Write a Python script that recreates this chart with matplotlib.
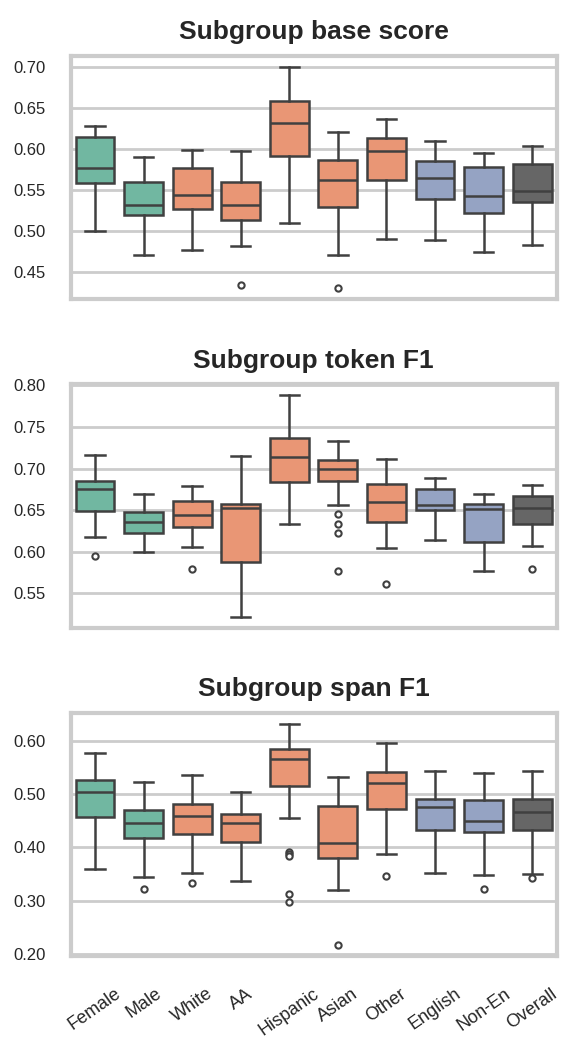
import numpy as np
import matplotlib.pyplot as plt
from matplotlib.ticker import MultipleLocator, FormatStrFormatter

groups = ["Female", "Male", "White", "AA", "Hispanic", "Asian", "Other", "English", "Non-En", "Overall"]
group_colors = ["#71b7a1", "#71b7a1", "#e99675", "#e99675", "#e99675",
                "#e99675", "#e99675", "#95a3c3", "#95a3c3", "#666666"]

# Subgroup base score (box stats)
base_whislo = [0.500, 0.471, 0.477, 0.482, 0.510, 0.470, 0.490, 0.489, 0.474, 0.483]
base_q1 = [0.559, 0.519, 0.527, 0.513, 0.592, 0.529, 0.562, 0.539, 0.522, 0.535]
base_med = [0.577, 0.532, 0.544, 0.532, 0.632, 0.562, 0.598, 0.564, 0.542, 0.549]
base_q3 = [0.615, 0.560, 0.577, 0.560, 0.658, 0.587, 0.613, 0.585, 0.578, 0.582]
base_whishi = [0.628, 0.590, 0.599, 0.597, 0.700, 0.621, 0.637, 0.610, 0.595, 0.604]
base_fliers = [[], [], [], [0.434], [], [0.430], [], [], [], []]

# Subgroup token F1
token_whislo = [0.618, 0.600, 0.606, 0.522, 0.634, 0.656, 0.604, 0.614, 0.577, 0.607]
token_q1 = [0.649, 0.623, 0.630, 0.588, 0.684, 0.685, 0.636, 0.650, 0.612, 0.633]
token_med = [0.675, 0.636, 0.644, 0.653, 0.714, 0.699, 0.660, 0.656, 0.652, 0.653]
token_q3 = [0.685, 0.648, 0.661, 0.658, 0.737, 0.710, 0.682, 0.676, 0.658, 0.667]
token_whishi = [0.716, 0.669, 0.679, 0.715, 0.788, 0.733, 0.712, 0.689, 0.670, 0.680]
token_fliers = [[0.595], [], [0.579], [], [], [0.646, 0.633, 0.623, 0.577],
                [0.561], [], [], [0.579]]

# Subgroup span F1
span_whislo = [0.360, 0.344, 0.351, 0.337, 0.455, 0.320, 0.387, 0.351, 0.349, 0.350]
span_q1 = [0.458, 0.418, 0.425, 0.410, 0.515, 0.380, 0.473, 0.433, 0.430, 0.432]
span_med = [0.504, 0.446, 0.460, 0.447, 0.567, 0.409, 0.521, 0.476, 0.449, 0.467]
span_q3 = [0.528, 0.470, 0.482, 0.463, 0.585, 0.478, 0.542, 0.492, 0.490, 0.491]
span_whishi = [0.578, 0.524, 0.537, 0.505, 0.633, 0.533, 0.597, 0.545, 0.540, 0.544]
span_fliers = [[], [0.322], [0.333], [], [0.391, 0.387, 0.383, 0.313, 0.297],
               [0.216], [0.347], [], [0.322], [0.342]]

panels = [
    ("Subgroup base score", base_whislo, base_q1, base_med, base_q3, base_whishi, base_fliers, 0.05),
    ("Subgroup token F1", token_whislo, token_q1, token_med, token_q3, token_whishi, token_fliers, 0.05),
    ("Subgroup span F1", span_whislo, span_q1, span_med, span_q3, span_whishi, span_fliers, 0.10),
]

if __name__ == "__main__":
    plt.rcParams["font.family"] = ["Liberation Sans", "DejaVu Sans"]
    line_color = "#404040"
    grid_color = "#cccccc"

    fig, axes = plt.subplots(3, 1, figsize=(5.61, 10.37), dpi=100)
    fig.subplots_adjust(left=0.126, right=0.992, top=0.946, bottom=0.078, hspace=0.35)

    for ax, (title, lo, q1, med, q3, hi, fl, step) in zip(axes, panels):
        stats = [dict(whislo=lo[i], q1=q1[i], med=med[i], q3=q3[i], whishi=hi[i],
                      fliers=np.array(fl[i])) for i in range(len(groups))]
        bp = ax.bxp(stats, positions=np.arange(len(groups)), widths=0.8,
                    patch_artist=True, showfliers=True,
                    boxprops=dict(edgecolor=line_color, linewidth=1.8),
                    medianprops=dict(color=line_color, linewidth=1.8),
                    whiskerprops=dict(color=line_color, linewidth=1.8),
                    capprops=dict(color=line_color, linewidth=1.8),
                    flierprops=dict(marker="o", markersize=4.5, markerfacecolor="white",
                                    markeredgecolor=line_color, markeredgewidth=1.5))
        for box, c in zip(bp["boxes"], group_colors):
            box.set_facecolor(c)

        ax.set_xlim(-0.5, len(groups) - 0.5)
        ax.yaxis.set_major_locator(MultipleLocator(step))
        ax.yaxis.set_major_formatter(FormatStrFormatter("%.2f"))
        ax.grid(axis="y", color=grid_color, linewidth=2.0)
        ax.set_axisbelow(True)
        for sp in ax.spines.values():
            sp.set_color(grid_color)
            sp.set_linewidth(3.0)
        ax.tick_params(axis="y", length=0, pad=18, labelsize=12, labelcolor="#262626")
        ax.set_title(title, fontsize=19, fontweight="bold", color="#262626", pad=12)

        if ax is axes[-1]:
            ax.set_xticks(np.arange(len(groups)))
            ax.set_xticklabels(groups, rotation=35, ha="center")
            ax.tick_params(axis="x", length=0, pad=21, labelsize=13, labelcolor="#262626")
        else:
            ax.set_xticks([])

    plt.savefig("out.png")
